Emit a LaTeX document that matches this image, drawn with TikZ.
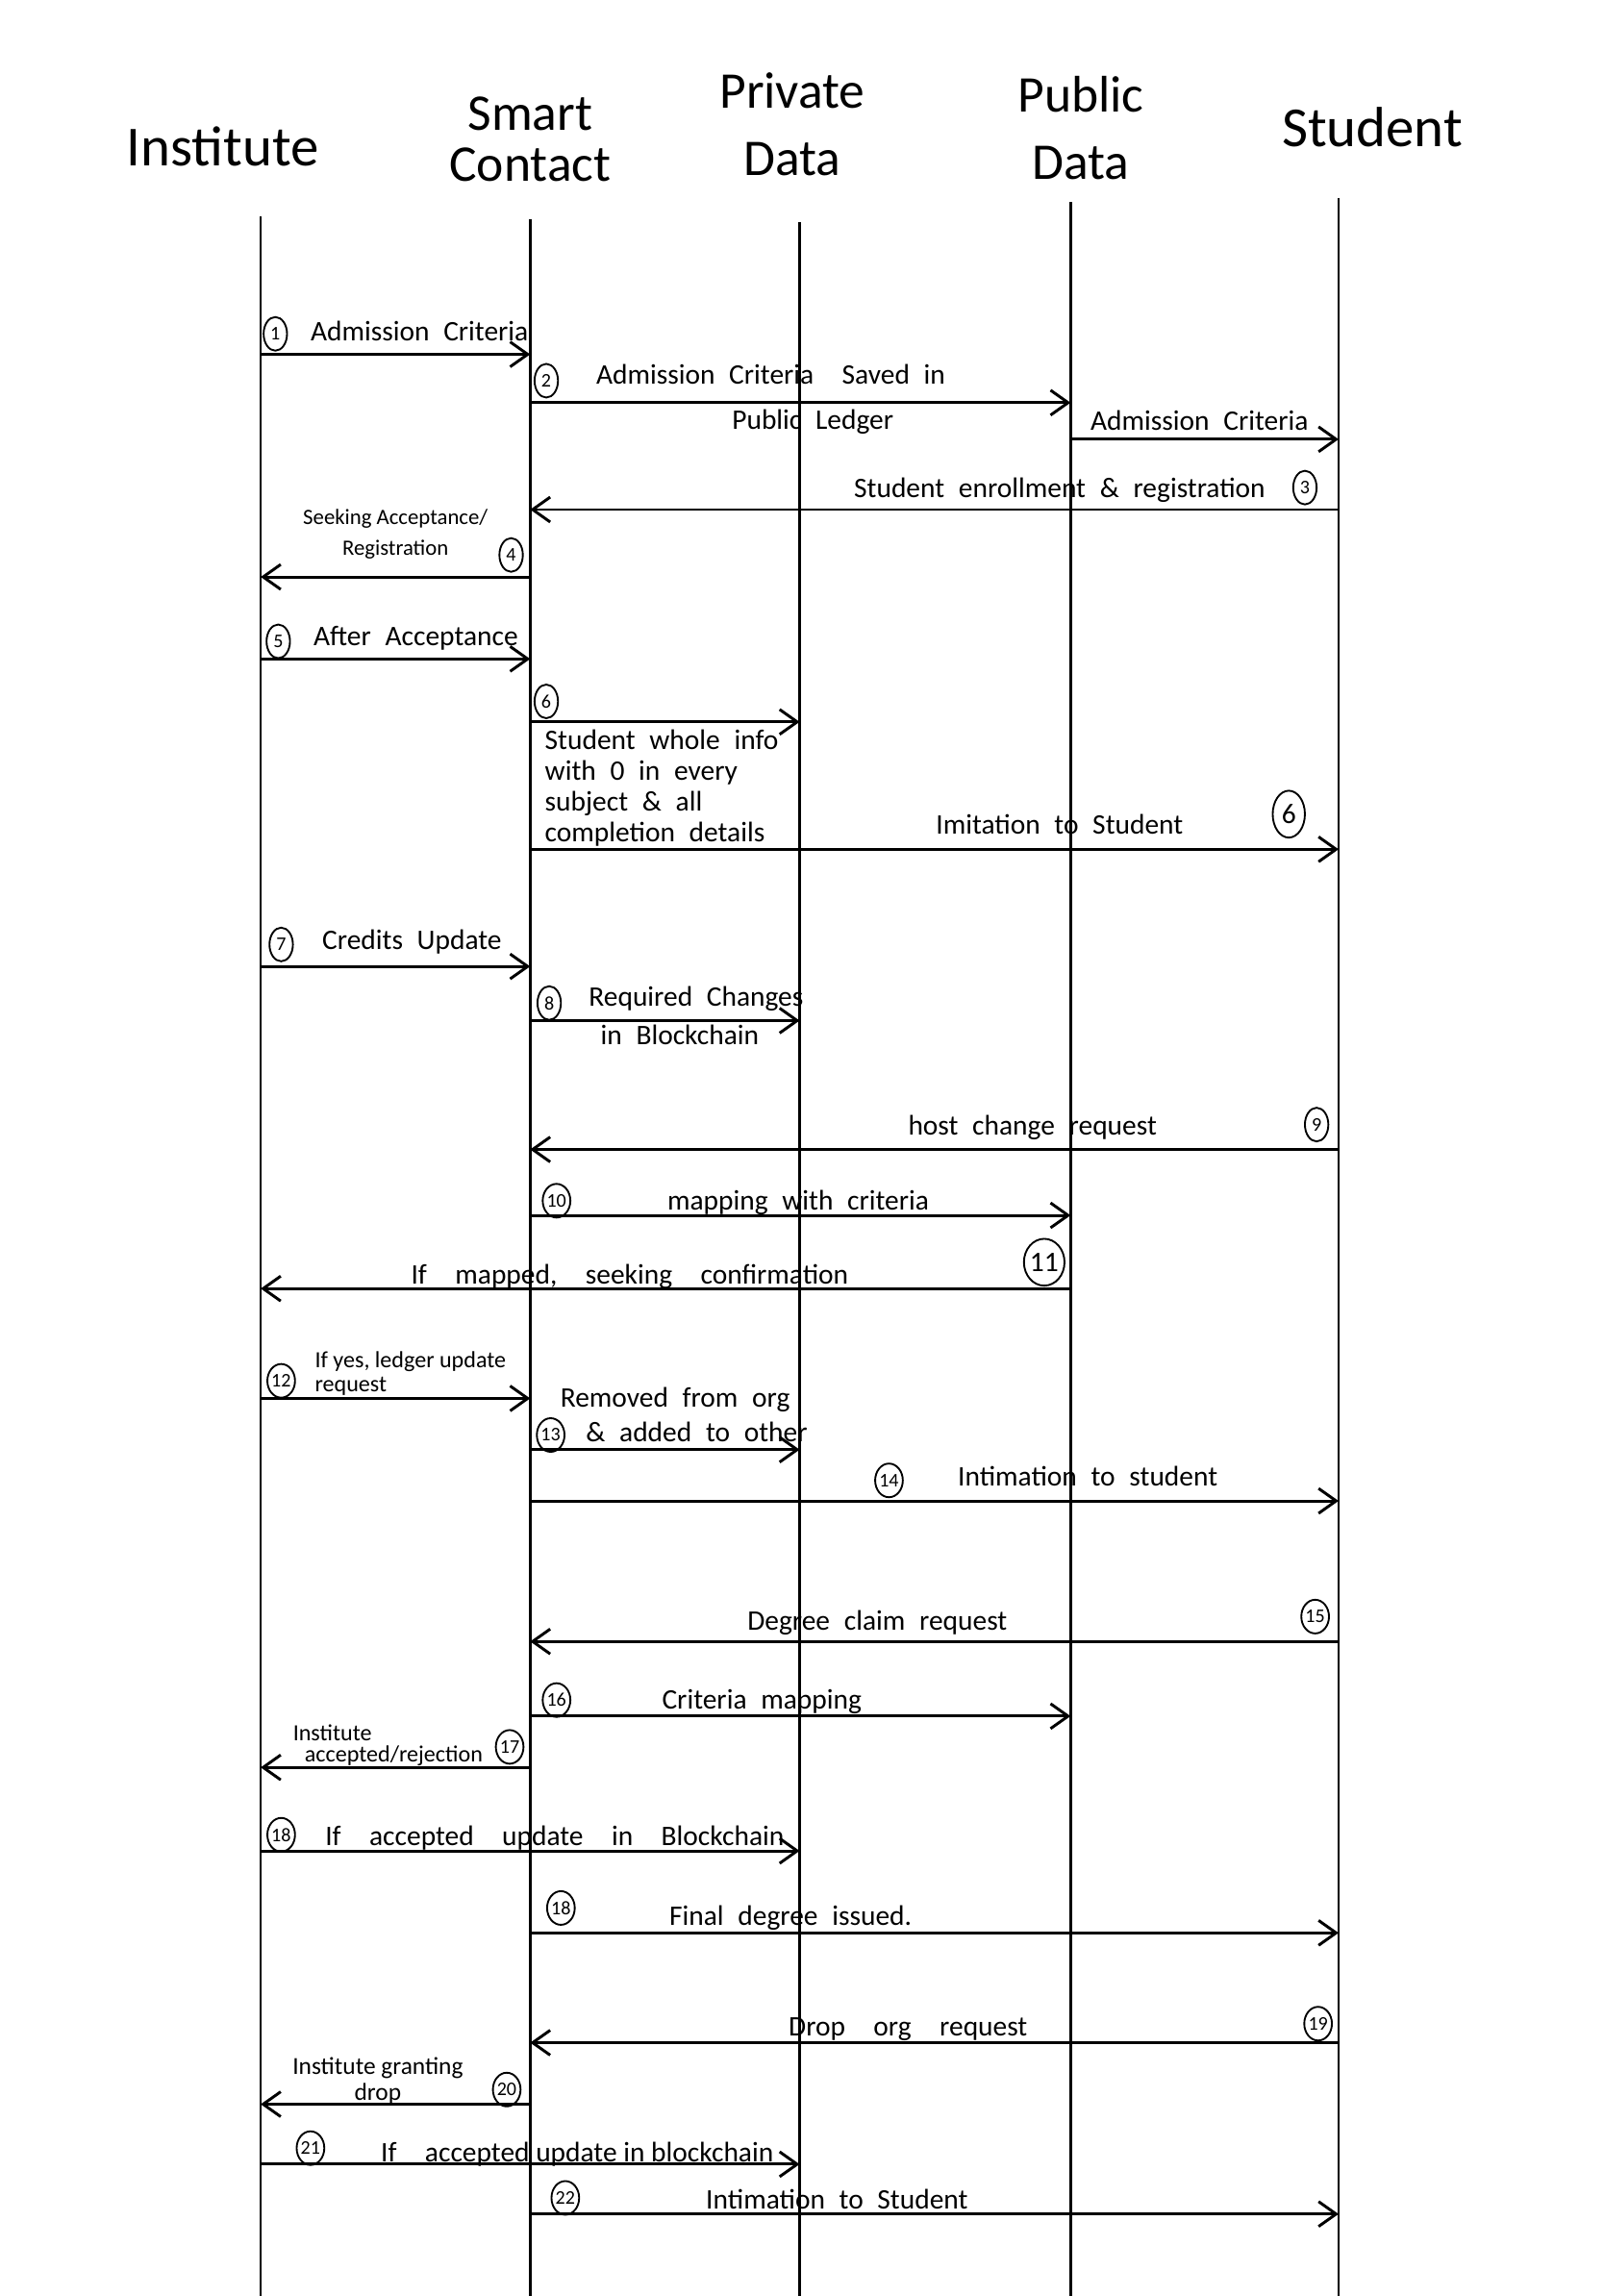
\documentclass[tikz,border=0pt]{standalone}
\usepackage{fontspec}
\setmainfont{Carlito}
\usetikzlibrary{arrows.meta,shapes.geometric}
\newcommand\widesp{\spaceskip=0.5em plus 0.1em\relax}
\tikzset{
  life/.style={line width=0.9pt},
  msg/.style={-{Straight Barb[length=2.4mm,width=3.4mm]}, line width=1.1pt},
  lbl/.style={font=\fontsize{11}{13}\selectfont\widesp, inner sep=1pt},
  slbl/.style={font=\fontsize{9}{10}\selectfont, inner sep=1pt},
  head/.style={font=\fontsize{22}{26}\selectfont, align=center},
  num/.style={draw, ellipse, line width=0.7pt, inner sep=0pt, minimum width=0.32cm,
              minimum height=0.46cm, font=\fontsize{7.5}{8}\selectfont},
  bignum/.style={num, minimum width=0.44cm, minimum height=0.64cm, font=\fontsize{11}{12}\selectfont},
}

\begin{document}
\begin{tikzpicture}
  \useasboundingbox (0,0) rectangle (21.9,-31.36);

  % headers
  \node[head] (hinst) at (3.04,-2.0) {Institute};
  \node[head, font=\fontsize{20}{20}\selectfont] (hsc) at (7.24,-1.9) {Smart\\Contact};
  \node[head, font=\fontsize{20}{26}\selectfont] (hpriv) at (10.82,-1.7) {Private\\Data};
  \node[head, font=\fontsize{20}{26}\selectfont] (hpub) at (14.76,-1.75) {Public\\Data};
  \node[head] (hstud) at (18.74,-1.74) {Student};

  % lifelines
  \coordinate (inst) at (3.56,-2.96);
  \coordinate (sc) at (7.24,-3.0);
  \coordinate (priv) at (10.92,-3.04);
  \coordinate (pub) at (14.62,-2.76);
  \coordinate (stud) at (18.28,-2.7);
  \foreach \l in {inst,sc,priv,pub,stud}
    \draw[life] (\l) -- (\l |- 0,-31.36);

  % messages
  \foreach \f/\t/\y in {inst/sc/-4.84, sc/pub/-5.5, pub/stud/-6.0, stud/sc/-6.96,
      sc/inst/-7.88, inst/sc/-9.0, sc/priv/-9.86, sc/stud/-11.6, inst/sc/-13.2,
      sc/priv/-13.94, stud/sc/-15.7, sc/pub/-16.6, pub/inst/-17.6, inst/sc/-19.1,
      sc/priv/-19.8, sc/stud/-20.5, stud/sc/-22.42, sc/pub/-23.44, sc/inst/-24.14,
      inst/priv/-25.28, sc/stud/-26.4, stud/sc/-27.9, sc/inst/-28.74,
      inst/priv/-29.56, sc/stud/-30.24}
    \draw[msg] (\f |- 0,\y) -- (\t |- 0,\y);

  % labels
  \node[num] (n1) at (3.76,-4.56) {1};
  \node[lbl, anchor=west] (l1) at (4.2,-4.52) {Admission Criteria};
  \node[num] (n2) at (7.46,-5.2) {2};
  \node[lbl, anchor=west] (l2a) at (8.1,-5.12) {Admission Criteria\quad Saved in};
  \node[lbl] (l2b) at (11.1,-5.76) {Public Ledger};
  \node[lbl] (l3) at (16.38,-5.74) {Admission Criteria};
  \node[lbl, anchor=east] (l4) at (17.32,-6.7) {Student enrollment \& registration};
  \node[num] (n3) at (17.82,-6.66) {3};
  \node[slbl, align=center, font=\fontsize{8.5}{12}\selectfont] (l5) at (5.4,-7.3) {Seeking Acceptance/\\Registration};
  \node[num] (n4) at (6.98,-7.58) {4};
  \node[num] (n5) at (3.8,-8.76) {5};
  \node[lbl, anchor=west] (l6) at (4.24,-8.72) {After Acceptance};
  \node[num] (n6) at (7.46,-9.58) {6};
  \node[lbl, anchor=north west, align=left, font=\fontsize{11}{12}\selectfont\widesp] (l7) at (7.4,-9.92)
      {Student whole info\\with 0 in every\\subject \& all\\completion details};
  \node[lbl, anchor=west] (l8) at (12.74,-11.26) {Imitation to Student};
  \node[bignum] (n6b) at (17.6,-11.12) {6};
  \node[num] (n7) at (3.84,-12.9) {7};
  \node[lbl, anchor=west] (l9) at (4.36,-12.86) {Credits Update};
  \node[num] (n8) at (7.5,-13.7) {8};
  \node[lbl, anchor=west] (l10a) at (8.0,-13.64) {Required Changes};
  \node[lbl, anchor=west] (l10b) at (8.16,-14.14) {in Blockchain};
  \node[lbl] (l11) at (14.1,-15.4) {host change request};
  \node[num] (n9) at (17.98,-15.36) {9};
  \node[num] (n10) at (7.6,-16.4) {10};
  \node[lbl] (l12) at (10.9,-16.42) {mapping with criteria};
  \node[lbl] (l13) at (8.6,-17.44) {If\quad mapped,\quad seeking\quad confirmation};
  \node[bignum] (n11) at (14.26,-17.24) {11};
  \node[num] (n12) at (3.84,-18.86) {12};
  \node[slbl, anchor=west, align=left, font=\fontsize{9}{9}\selectfont] (l14) at (4.26,-18.76)
      {If yes, ledger update\\request};
  \node[lbl] (l15a) at (9.22,-19.12) {Removed from org};
  \node[num] (n13) at (7.52,-19.6) {13};
  \node[lbl, anchor=west] (l15b) at (7.96,-19.56) {\& added to other};
  \node[num] (n14) at (12.14,-20.22) {14};
  \node[lbl, anchor=west] (l16) at (13.04,-20.16) {Intimation to student};
  \node[lbl] (l17) at (11.98,-22.16) {Degree claim request};
  \node[num] (n15) at (17.96,-22.08) {15};
  \node[num] (n16) at (7.6,-23.22) {16};
  \node[lbl, anchor=west] (l18) at (9.0,-23.24) {Criteria mapping};
  \node[slbl, anchor=west, align=left, font=\fontsize{9}{8}\selectfont] (l19) at (3.96,-23.84)
      {Institute\\\hspace{0.16cm}accepted/rejection};
  \node[num] (n17) at (6.96,-23.86) {17};
  \node[num] (n18) at (3.84,-25.06) {18};
  \node[lbl, anchor=west] (l20) at (4.4,-25.1) {If\quad accepted\quad update\quad in\quad Blockchain};
  \node[num] (n18b) at (7.66,-26.06) {18};
  \node[lbl, anchor=west] (l21) at (9.1,-26.2) {Final degree issued.};
  \node[lbl] (l22) at (12.4,-27.72) {Drop\quad org\quad request};
  \node[num] (n19) at (18.0,-27.64) {19};
  \node[slbl, align=center, font=\fontsize{9.5}{10}\selectfont] (l23) at (5.16,-28.42) {Institute granting\\drop};
  \node[num] (n20) at (6.92,-28.54) {20};
  \node[num] (n21) at (4.24,-29.34) {21};
  \node[lbl, anchor=west, font=\fontsize{11}{13}\selectfont] (l24) at (5.16,-29.42) {If\quad accepted update in blockchain};
  \node[num] (n22) at (7.72,-30.02) {22};
  \node[lbl, anchor=west] (l25) at (9.6,-30.04) {Intimation to Student};
\end{tikzpicture}
\end{document}
